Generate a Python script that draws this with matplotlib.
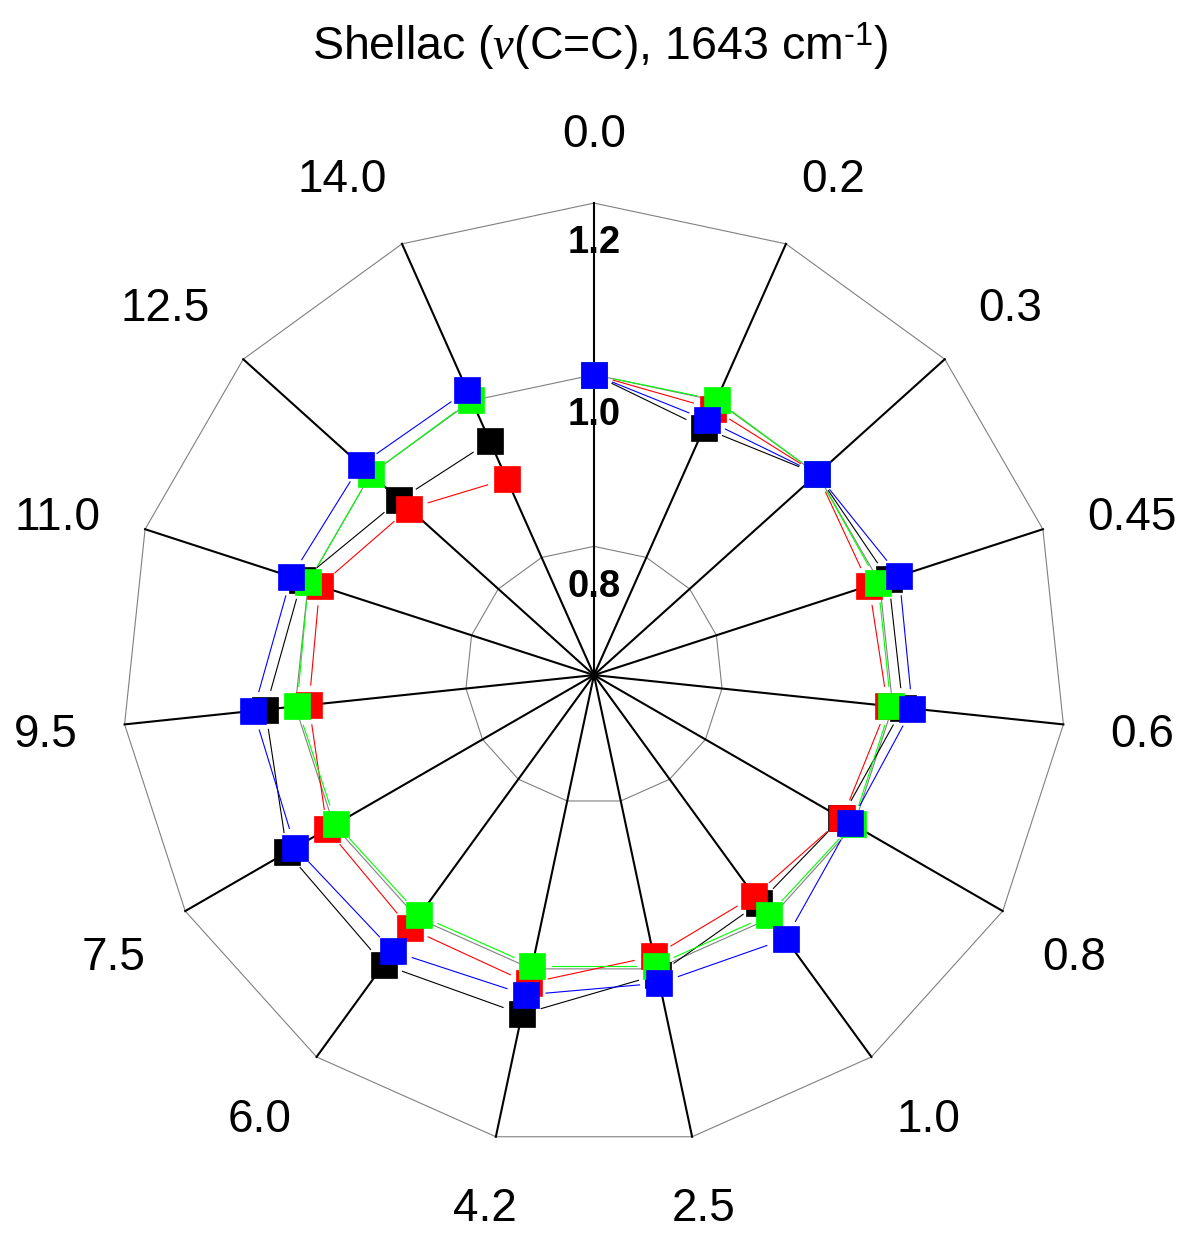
import numpy as np
import matplotlib.pyplot as plt

plt.rcParams['font.family'] = ['Liberation Sans', 'DejaVu Sans']
plt.rcParams['mathtext.fontset'] = 'custom'
plt.rcParams['mathtext.rm'] = 'Liberation Sans'
plt.rcParams['mathtext.it'] = 'Liberation Serif:italic'

# spoke labels, clockwise from the top
labels = ["0.0", "0.2", "0.3", "0.45", "0.6", "0.8", "1.0", "2.5",
          "4.2", "6.0", "7.5", "9.5", "11.0", "12.5", "14.0"]

black_vals = [1.000, 0.965, 1.000, 1.011, 1.012, 0.983, 0.978, 1.007,
              1.054, 1.067, 1.063, 1.035, 1.008, 0.955, 0.948]
red_vals = [1.000, 0.990, 1.000, 0.987, 0.994, 0.984, 0.968, 0.985,
            1.017, 1.015, 1.009, 0.984, 0.986, 0.940, 0.900]
green_vals = [1.000, 1.001, 1.000, 0.998, 0.998, 0.998, 0.996, 0.996,
              0.996, 0.996, 0.997, 0.998, 1.000, 1.000, 1.001]
blue_vals = [1.000, 0.975, 1.000, 1.024, 1.023, 0.995, 1.030, 1.017,
             1.031, 1.048, 1.052, 1.049, 1.021, 1.016, 1.013]

ring_vals = [0.8, 1.0, 1.2]
r_min, r_max = 0.65, 1.2

n = len(labels)
theta = np.arange(n) * 2 * np.pi / n

fig = plt.figure(figsize=(11.83, 12.33), dpi=100)
ax = fig.add_axes([0.1031, 0.0697, 0.798, 0.7656], projection="polar")
ax.set_theta_zero_location("N")
ax.set_theta_direction(-1)
ax.set_rlim(r_min, r_max)
ax.grid(False)
ax.set_xticks([])
ax.set_yticks([])
ax.spines["polar"].set_visible(False)

# polygon rings
for rv in ring_vals:
    ax.plot(np.append(theta, theta[0]), [rv] * (n + 1), color="#808080",
            lw=0.8, zorder=1, clip_on=False)

# spokes
for t in theta:
    ax.plot([t, t], [r_min, r_max], color="black", lw=1.5, zorder=2, clip_on=False)

# data lines with small gaps around the markers
trans = ax.transData
inv = trans.inverted()
gap = 20

series = [(black_vals, "black"), (red_vals, "#ff0000"),
          (green_vals, "#00ff00"), (blue_vals, "#0000ff")]
for k, (vals, c) in enumerate(series):
    pts = trans.transform(np.column_stack([theta, vals]))
    for i in range(n - 1):
        p0, p1 = pts[i], pts[i + 1]
        d = p1 - p0
        L = np.hypot(d[0], d[1])
        if L <= 2 * gap:
            continue
        u = d / L
        seg = inv.transform(np.array([p0 + u * gap, p1 - u * gap]))
        th = np.unwrap(seg[:, 0])
        ax.plot(th, seg[:, 1], color=c, lw=0.8, zorder=3 + k)
    ax.plot(theta, vals, ls="none", marker="s", ms=18.5, color=c,
            mec=c, mew=0.5, zorder=3 + k, clip_on=False)

# radial value labels
for rv in ring_vals:
    ax.text(0, rv - 0.047, f"{rv:.1f}", ha="center", va="center",
            fontsize=27.5, fontweight="bold", zorder=10)

# spoke labels, aligned away from the centre like the original
r_lab = r_min + (r_max - r_min) * 525 / 472
px = 72 / fig.dpi
for t, lab in zip(theta, labels):
    sx, sy = np.sin(t), np.cos(t)
    if sx > 0.35:
        ha, ox = "left", -6
    elif sx < -0.35:
        ha, ox = "right", 6
    else:
        ha, ox = "center", 0
    oy = 20 if sy > 0.35 else (-15 if sy < -0.35 else 0)
    ax.annotate(lab, xy=(t, r_lab), xytext=(ox * px, oy * px),
                textcoords="offset points", ha=ha, va="center_baseline",
                fontsize=33, annotation_clip=False)

fig.text(0.507, 0.962, r"Shellac ($\nu$(C=C), 1643 cm$^{\text{-1}}$)",
         ha="center", va="center", fontsize=33.5)

fig.savefig("out.png", dpi=100)
